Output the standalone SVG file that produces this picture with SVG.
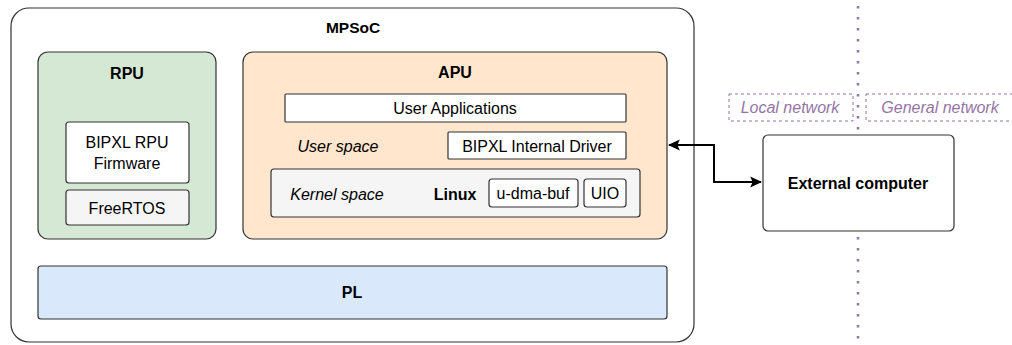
<svg xmlns="http://www.w3.org/2000/svg" width="1012" height="345" viewBox="0 0 1012 345">
<style>
  text { font-family: "Liberation Sans", Arial, sans-serif; font-size: 16px; fill: #000; text-anchor: middle; dominant-baseline: central; }
  .b { font-weight: bold; }
  .t { font-weight: bold; font-size: 15.5px; }
  .i { font-style: italic; }
  .net { font-style: italic; fill: #9673a6; }
  .box { stroke: #333; stroke-width: 1.2; }
  .netbox { fill: none; stroke: #9673a6; stroke-width: 1; stroke-dasharray: 3 3; }
</style>
<defs>
  <marker id="ah" viewBox="0 0 10 10" refX="9" refY="5" markerWidth="12" markerHeight="12" orient="auto-start-reverse" markerUnits="userSpaceOnUse">
    <path d="M0,0.5 L10,5 L0,9.5 L2,5 Z" fill="#000"/>
  </marker>
</defs>
<rect width="1012" height="345" fill="#fff"/>
<g id="divider">
  <line x1="858" y1="6" x2="858" y2="345" stroke="#9673a6" stroke-width="2.5" stroke-dasharray="2.5 8.5"/>
</g>
<g id="mpsoc">
  <rect class="box" x="11" y="8" width="683" height="334" rx="18" fill="#fff"/>
  <text class="t" x="353" y="27">MPSoC</text>
</g>
<g id="rpu">
  <rect class="box" x="38" y="52" width="178" height="187" rx="10" fill="#d5e8d4"/>
  <text class="b" x="127" y="73">RPU</text>
</g>
<g id="firmware">
  <rect class="box" x="66" y="122" width="123" height="61" rx="3" fill="#fff"/>
  <text x="127" y="142">BIPXL RPU</text>
  <text x="127" y="163">Firmware</text>
</g>
<g id="freertos">
  <rect class="box" x="66" y="190" width="123" height="35" rx="3" fill="#f5f5f5"/>
  <text x="127" y="208">FreeRTOS</text>
</g>
<g id="apu">
  <rect class="box" x="243" y="52" width="424" height="187" rx="10" fill="#ffe6cc"/>
  <text class="b" x="455" y="72">APU</text>
</g>
<g id="userapps">
  <rect class="box" x="285" y="94" width="341" height="28" rx="1" fill="#fff"/>
  <text x="455" y="108">User Applications</text>
</g>
<g id="userspace">
  <text class="i" x="338" y="146">User space</text>
</g>
<g id="driver">
  <rect class="box" x="448" y="132" width="178" height="27" rx="1" fill="#fff"/>
  <text x="537" y="146">BIPXL Internal Driver</text>
</g>
<g id="kernel">
  <rect class="box" x="271" y="169" width="369" height="48" rx="3" fill="#f5f5f5"/>
  <text class="i" x="337" y="194">Kernel space</text>
  <text class="b" x="455" y="194">Linux</text>
</g>
<g id="udmabuf">
  <rect class="box" x="489" y="179" width="89" height="28" rx="3" fill="#fff"/>
  <text x="533" y="193">u-dma-buf</text>
</g>
<g id="uio">
  <rect class="box" x="584" y="179" width="42" height="28" rx="3" fill="#fff"/>
  <text x="605" y="193">UIO</text>
</g>
<g id="pl">
  <rect class="box" x="38" y="266" width="629" height="53" rx="3" fill="#dae8fc"/>
  <text class="b" x="352" y="292">PL</text>
</g>
<g id="localnet">
  <rect class="netbox" x="729" y="94" width="124" height="27"/>
  <text class="net" x="790" y="107">Local network</text>
</g>
<g id="generalnet">
  <rect class="netbox" x="866" y="94" width="160" height="27"/>
  <text class="net" x="940" y="107">General network</text>
</g>
<g id="external">
  <rect class="box" x="763" y="135" width="191" height="96" rx="5" fill="#fff"/>
  <text class="b" x="858" y="183">External computer</text>
</g>
<g id="connectors">
  <path d="M669,145 H714 V182 H761" fill="none" stroke="#000" stroke-width="2" marker-start="url(#ah)" marker-end="url(#ah)"/>
</g>
</svg>
